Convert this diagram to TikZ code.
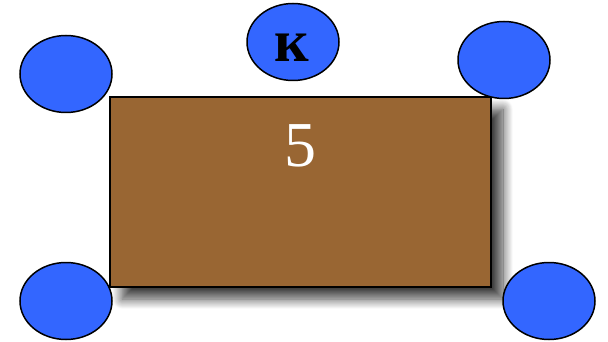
\documentclass[tikz,border=0pt]{standalone}
\usepackage{fontspec}
\newfontfamily\timesfont{Liberation Serif}
\usetikzlibrary{shadows.blur,shapes.geometric}
\definecolor{tablebrown}{HTML}{996633}
\definecolor{chairblue}{HTML}{3366FF}
\begin{document}
\begin{tikzpicture}[x=1pt,y=-1pt,
  chair/.style={ellipse, draw=black, line width=1.5pt, fill=chairblue, minimum width=92pt, minimum height=77pt, inner sep=0pt},
  table/.style={draw=black, line width=1.2pt, fill=tablebrown, minimum width=381pt, minimum height=190pt, inner sep=0pt,
     blur shadow={shadow xshift=12pt, shadow yshift=-12pt, shadow blur radius=10pt, shadow blur steps=14, shadow opacity=75}}]
\useasboundingbox (0,0) rectangle (608,342);
\node[table] (t) at (300.5,192) {};
\node[text=white, font=\timesfont\fontsize{64}{64}\selectfont, anchor=base] (n) at (300,167) {5};
\node[chair] (c1) at (66,74) {};
\node[chair] (c2) at (293,42) {};
\node[font=\timesfont\bfseries\fontsize{60}{60}\selectfont, anchor=base, inner sep=0pt] (k) at (292,62) {к};
\node[chair] (c3) at (504,60) {};
\node[chair] (c4) at (66,301) {};
\node[chair] (c5) at (549,301) {};
\end{tikzpicture}
\end{document}
